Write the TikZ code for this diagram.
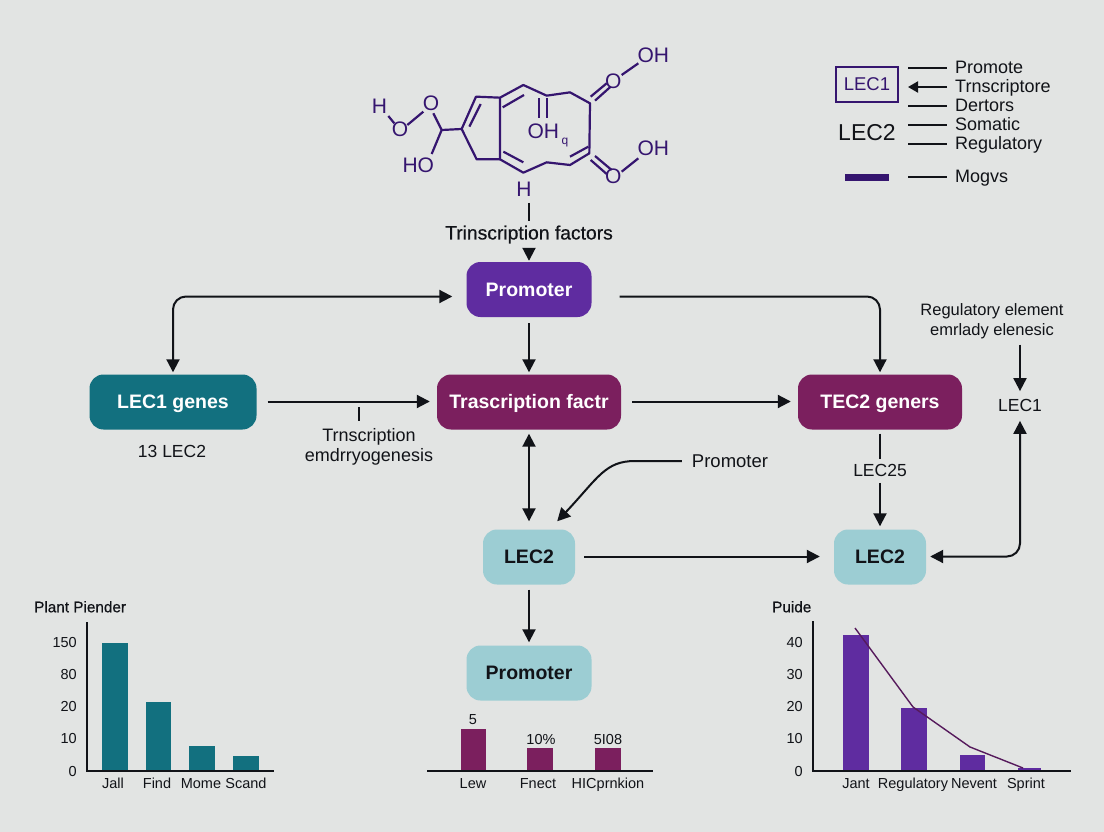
\documentclass[tikz,border=0pt]{standalone}
\usepackage{fontspec}
\setmainfont{Liberation Sans}
\newfontfamily\medf[FakeBold=0.5]{Liberation Sans}
\usetikzlibrary{arrows.meta}
\definecolor{bgc}{HTML}{E2E4E3}
\definecolor{mol}{HTML}{35156F}
\definecolor{pur}{HTML}{5F2CA0}
\definecolor{mag}{HTML}{7B1F5E}
\definecolor{teal1}{HTML}{12707F}
\definecolor{lite}{HTML}{9CCDD3}
\definecolor{ink}{HTML}{111318}
\definecolor{trend}{HTML}{561A5C}
\tikzset{
  box/.style={rounded corners=14pt,minimum height=55pt,inner sep=0pt,text height=17pt,text depth=4pt,font=\fontsize{19.5}{23}\selectfont\bfseries},
  darkbox/.style={box,text=white},
  litebox/.style={box,fill=lite,text=ink},
  arr/.style={draw=ink,line width=2pt,-{Triangle[length=13pt,width=13pt]}},
  darr/.style={draw=ink,line width=2pt,{Triangle[length=13pt,width=13pt]}-{Triangle[length=13pt,width=13pt]}},
  plain/.style={draw=ink,line width=2pt},
  lbl/.style={text=ink,inner sep=0pt,align=center,font=\fontsize{17.5}{21}\selectfont},
  legt/.style={text=ink,inner sep=0pt,anchor=west,text height=12pt,text depth=0pt,font=\fontsize{18}{21}\selectfont},
  axt/.style={text=ink,inner sep=0pt,text height=10.5pt,text depth=0pt,font=\fontsize{14.5}{17}\selectfont},
  ttl/.style={text=ink,inner sep=0pt,anchor=west,text height=10.5pt,text depth=0pt,font=\fontsize{15.3}{18}\selectfont\medf},
  axis/.style={draw=ink,line width=1.6pt},
  moll/.style={draw=mol,line width=2.2pt,line join=round},
  molt/.style={text=mol,inner sep=0pt,font=\fontsize{21}{25}\selectfont},
}
\begin{document}
\begin{tikzpicture}[x=1pt,y=-1pt]
\useasboundingbox (0,0) rectangle (1104,832);
\fill[bgc] (0,0) rectangle (1104,832);

% molecule
\begin{scope}[shift={(350,30)},x=0.33333pt,y=-0.33333pt]
\draw[moll] (335,297)--(378,200)--(450,203)--(450,388)--(380,388)--cycle;
\draw[moll] (450,203)--(520,165)--(590,197)--(660,187)--(720,220)--(718,370)--(660,405)--(590,397)--(520,428)--(450,388);
\draw[moll] (358,290)--(392,222) (458,232)--(522,195) (460,365)--(520,397) (660,380)--(715,350);
\draw[moll] (568,205)--(568,265) (590,205)--(590,265);
\draw[moll] (722,200)--(770,160) (735,212)--(782,170) (815,135)--(865,100);
\draw[moll] (722,390)--(770,432) (735,378)--(785,420) (815,425)--(865,385);
\draw[moll] (115,258)--(133,280) (172,285)--(220,245) (250,250)--(275,300)--(245,372) (275,300)--(335,297);
\node[molt] (mH) at (88,230) {H};
\node[molt] (mO1) at (150,298) {O};
\node[molt] (mO2) at (243,220) {O};
\node[molt] (mHO) at (205,405) {HO};
\node[molt] (mOHc) at (580,305) {OH};
\node[molt,font=\fontsize{12}{14}\selectfont] (mq) at (645,338) {q};
\node[molt] (mOt) at (790,155) {O};
\node[molt] (mOHt) at (910,75) {OH};
\node[molt] (mOb) at (790,440) {O};
\node[molt] (mOHb) at (910,355) {OH};
\node[molt] (mHb) at (522,478) {H};
\end{scope}

% main nodes
\node[darkbox,fill=pur,minimum width=125pt] (prom1) at (529,289.5) {Promoter};
\node[darkbox,fill=mag,minimum width=184pt] (trans) at (529,402) {Trascription factr};
\node[darkbox,fill=teal1,minimum width=167pt] (lec1g) at (173,402) {LEC1 genes};
\node[darkbox,fill=mag,minimum width=164pt] (tec2) at (880,402) {TEC2 geners};
\node[litebox,minimum width=92pt] (lec2a) at (529,557) {LEC2};
\node[litebox,minimum width=92pt] (lec2b) at (880,557) {LEC2};
\node[litebox,minimum width=125pt] (prom2) at (529,673) {Promoter};

% labels
\node[lbl,font=\fontsize{19.3}{23}\selectfont\medf] (tf) at (529,234.5) {Trinscription factors};
\node[lbl] (l13) at (172,451) {13 LEC2};
\node[lbl,font=\fontsize{18}{20}\selectfont] (ltr) at (369,447) {Trnscription\\emdrryogenesis};
\node[lbl,font=\fontsize{18.5}{22}\selectfont] (lpro) at (730,461) {Promoter};
\node[lbl] (l25) at (880,470.5) {LEC25};
\node[lbl,font=\fontsize{16.5}{19.5}\selectfont] (lreg) at (992,321) {Regulatory element\\emrlady elenesic};
\node[lbl] (l1r) at (1020,405) {LEC1};

% connectors
\coordinate (stemA) at (529,203);
\coordinate (stemB) at (529,221);
\draw[plain] (stemA)--(stemB);
\draw[arr,shorten <=5pt,shorten >=1pt] (tf.south)--(prom1.north);
\draw[darr,rounded corners=13pt,shorten <=2pt,shorten >=14pt] (lec1g.north)|-([yshift=-7pt]prom1.west);
\draw[arr,rounded corners=13pt,shorten <=28pt,shorten >=2pt] ([yshift=-7pt]prom1.east)-|(tec2.north);
\draw[arr,shorten <=6pt,shorten >=2pt] (prom1.south)--(trans.north);
\draw[arr,shorten <=11pt,shorten >=7pt] ([yshift=0.5pt]lec1g.east)--([yshift=0.5pt]trans.west);
\coordinate (tickA) at (359,407);
\coordinate (tickB) at (359,421);
\draw[plain] (tickA)--(tickB);
\draw[arr,shorten <=11pt,shorten >=7pt] ([yshift=0.5pt]trans.east)--([yshift=0.5pt]tec2.west);
\draw[plain,shorten <=4pt,shorten >=5pt] (tec2.south)--(l25.north);
\draw[arr,shorten <=6pt,shorten >=3pt] (l25.south)--(lec2b.north);
\draw[darr,shorten <=4pt,shorten >=8pt] (trans.south)--(lec2a.north);
\coordinate (cv) at (635,461);
\draw[arr,shorten <=10pt] (lpro.west)--(cv) .. controls (605,461) and (598,478) .. ([xshift=-18pt,yshift=8pt]lec2a.north east);
\draw[arr,shorten <=9pt,shorten >=14pt] ([yshift=0.5pt]lec2a.east)--([yshift=0.5pt]lec2b.west);
\draw[arr,shorten <=5pt,shorten >=3pt] (lec2a.south)--(prom2.north);
\draw[arr,shorten <=6pt,shorten >=7.5pt] (lreg.south -| l1r)--(l1r.north);
\draw[darr,rounded corners=13pt,shorten <=9.5pt,shorten >=4pt] (l1r.south)|-([yshift=0.5pt]lec2b.east);

% legend
\node[rectangle,draw=mol,line width=2pt,minimum width=62pt,minimum height=35pt,inner sep=0pt,text=mol,font=\fontsize{18.5}{22}\selectfont] (lg1) at (867,84.5) {LEC1};
\node[text=ink,inner sep=0pt,font=\fontsize{23}{27}\selectfont] (lg2) at (867,133) {LEC2};
\fill[mol] (845,174) rectangle (889,181);
\foreach \n/\y/\t in {a/68/Promote,b/87/Trnscriptore,c/106/Dertors,d/125/Somatic,e/144/Regulatory,f/177/Mogvs}{
  \node[legt] (lt\n) at (955,\y) {\t};
}
\coordinate (ga) at (908,68);\coordinate (gb) at (908,87);\coordinate (gc) at (908,106);
\coordinate (gd) at (908,125);\coordinate (ge) at (908,144);\coordinate (gf) at (908,177);
\draw[plain,shorten >=8pt] (ga)--(lta.west);
\draw[arr,-{Triangle[length=10pt,width=11pt]},shorten <=8pt] (ltb.west)--(gb);
\draw[plain,shorten >=8pt] (gc)--(ltc.west);
\draw[plain,shorten >=8pt] (gd)--(ltd.west);
\draw[plain,shorten >=8pt] (ge)--(lte.west);
\draw[plain,shorten >=8pt] (gf)--(ltf.west);

% left chart
\fill[teal1] (102,643) rectangle (128,771);
\fill[teal1] (146,702) rectangle (171,771);
\fill[teal1] (189,746) rectangle (215,771);
\fill[teal1] (233,756) rectangle (259,771);
\draw[axis] (87,622)--(87,771)--(274,771);
\node[ttl] (t1) at (34,607) {Plant Piender};
\foreach \n/\y/\t in {a/642/150,b/674/80,c/706/20,d/738/10,e/771/0}{
  \node[axt,anchor=east] (ya\n) at (77,\y) {\t};
}
\foreach \n/\x/\t in {a/113/Jall,b/157/Find,c/201/Mome,d/246/Scand}{
  \node[axt] (xa\n) at (\x,783) {\t};
}

% middle chart
\fill[mag] (461,729) rectangle (486,771);
\fill[mag] (527,748) rectangle (553,771);
\fill[mag] (595,748) rectangle (621,771);
\draw[axis] (427,771)--(653,771);
\node[axt] (va) at (473,719) {5};
\node[axt] (vb) at (541,739) {10\%};
\node[axt] (vc) at (608,739) {5I08};
\node[axt] (xb1) at (473,783) {Lew};
\node[axt] (xb2) at (538,783) {Fnect};
\node[axt] (xb3) at (608,783) {HICprnkion};

% right chart
\fill[pur] (843,635) rectangle (869,771);
\fill[pur] (901,708) rectangle (927,771);
\fill[pur] (960,755) rectangle (985,771);
\fill[pur] (1018,768) rectangle (1041,771);
\draw[axis] (813,621)--(813,771)--(1071,771);
\draw[draw=trend,line width=1.4pt,line join=round] (855,628)--(913,707)--(970,747)--(1023,768);
\node[ttl] (t3) at (772,607) {Puide};
\foreach \n/\y/\t in {a/642/40,b/674/30,c/706/20,d/738/10,e/771/0}{
  \node[axt,anchor=east] (yc\n) at (803,\y) {\t};
}
\foreach \n/\x/\t in {a/856/Jant,b/913/Regulatory,c/974/Nevent,d/1026/Sprint}{
  \node[axt] (xc\n) at (\x,783) {\t};
}
\end{tikzpicture}
\end{document}
